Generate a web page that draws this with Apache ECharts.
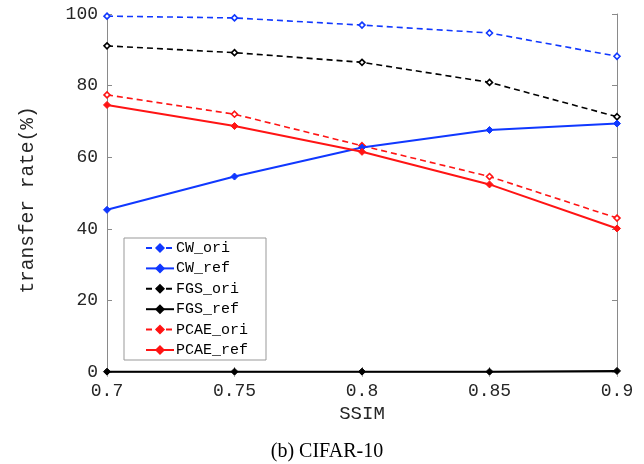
<!DOCTYPE html>
<html>
<head>
<meta charset="utf-8">
<script src="https://cdn.jsdelivr.net/npm/echarts@6/dist/echarts.min.js"></script>
<style>
  html, body { margin: 0; padding: 0; background: #fff; }
  #chart { width: 644px; height: 464px; }
</style>
</head>
<body>
<div id="chart"></div>
<script>
// SSIM thresholds on the x axis
const ssim = ['0.7', '0.75', '0.8', '0.85', '0.9'];
// transfer rate (%) for each attack, original vs. refined
const cwOri   = [99.4, 98.9, 96.9, 94.7, 88.2];
const cwRef   = [45.3, 54.6, 62.7, 67.6, 69.4];
const fgsOri  = [91.1, 89.2, 86.5, 80.9, 71.3];
const fgsRef  = [0.1, 0.1, 0.1, 0.1, 0.3];
const pcaeOri = [77.4, 72.0, 63.2, 54.6, 43.0];
const pcaeRef = [74.6, 68.7, 61.5, 52.4, 40.1];
const yTicks  = [0, 20, 40, 60, 80, 100];
const seriesNames = ['CW_ori', 'CW_ref', 'FGS_ori', 'FGS_ref', 'PCAE_ori', 'PCAE_ref'];

const BLUE = '#1038ff', RED = '#ff1414', BLACK = '#000000';
const seriesColors = [BLUE, BLUE, BLACK, BLACK, RED, RED];
const monoFont = '"Liberation Mono", "DejaVu Sans Mono", monospace';
const axisGray = '#8a8a8a';

function mk(name, data, color, dashed) {
  return {
    name, type: 'line', data,
    clip: false,
    symbol: 'diamond',
    symbolSize: dashed ? 6 : 7,
    itemStyle: { color: dashed ? '#ffffff' : color, borderColor: color, borderWidth: dashed ? 1.6 : 1 },
    lineStyle: { color, width: dashed ? 1.6 : 2, type: dashed ? [6, 4] : 'solid' },
    emphasis: { disabled: true },
    z: dashed ? 3 : 4
  };
}

const chart = echarts.init(document.getElementById('chart'), null, { renderer: 'canvas' });
chart.setOption({
  animation: false,
  backgroundColor: '#ffffff',
  grid: { left: 107, right: 27, top: 14, bottom: 92, containLabel: false },
  title: {
    text: '(b) CIFAR-10',
    left: 322, top: 437, textAlign: 'center',
    textStyle: { fontFamily: '"Liberation Serif", "Times New Roman", serif', fontSize: 20, fontWeight: 'normal', color: '#000' }
  },
  legend: {
    orient: 'vertical',
    left: 124, top: 238,
    itemWidth: 28, itemHeight: 9, itemGap: 4.4,
    padding: [2, 18, 2, 21],
    borderColor: '#999', borderWidth: 1,
    backgroundColor: '#fff',
    textStyle: { fontFamily: monoFont, fontSize: 15, lineHeight: 16, color: '#000', padding: [0, 0, 0, -3] },
    data: seriesNames.map((n, i) => ({
      name: n,
      itemStyle: { color: seriesColors[i], borderColor: seriesColors[i] }
    }))
  },
  xAxis: [{
    type: 'category', data: ssim, boundaryGap: false,
    name: 'SSIM', nameLocation: 'middle', nameGap: 31,
    nameTextStyle: { fontFamily: monoFont, fontSize: 19, color: '#262626' },
    axisLine: { lineStyle: { color: axisGray, width: 1 } },
    axisTick: { inside: true, length: 5, lineStyle: { color: axisGray } },
    axisLabel: { fontFamily: monoFont, fontSize: 18, color: '#262626', margin: 10 },
    splitLine: { show: false }
  }, {
    type: 'category', data: ssim, boundaryGap: false, position: 'top',
    axisLine: { lineStyle: { color: '#b0b0b0', width: 1 } },
    axisTick: { inside: true, length: 5, lineStyle: { color: '#b0b0b0' } },
    axisLabel: { show: false }, splitLine: { show: false }
  }],
  yAxis: [{
    type: 'value', min: 0, max: 100, interval: 20,
    name: 'transfer rate(%)', nameLocation: 'middle', nameGap: 69, nameRotate: 90,
    nameTextStyle: { fontFamily: monoFont, fontSize: 19.5, color: '#262626', padding: [0, 14, 0, 0] },
    axisLine: { show: true, lineStyle: { color: axisGray, width: 1 } },
    axisTick: { show: true, inside: true, length: 5, lineStyle: { color: axisGray } },
    axisLabel: {
      fontFamily: monoFont, fontSize: 18, color: '#262626', margin: 9,
      formatter: v => (yTicks.includes(v) ? String(v) : '')
    },
    splitLine: { show: false }
  }, {
    type: 'value', min: 0, max: 100, interval: 20, position: 'right',
    axisLine: { show: true, lineStyle: { color: axisGray, width: 1 } },
    axisTick: { show: true, inside: true, length: 5, lineStyle: { color: axisGray } },
    axisLabel: { show: false }, splitLine: { show: false }
  }],
  series: [
    mk(seriesNames[0], cwOri, BLUE, true),
    mk(seriesNames[1], cwRef, BLUE, false),
    mk(seriesNames[2], fgsOri, BLACK, true),
    mk(seriesNames[3], fgsRef, BLACK, false),
    mk(seriesNames[4], pcaeOri, RED, true),
    mk(seriesNames[5], pcaeRef, RED, false)
  ]
});
</script>
</body>
</html>
